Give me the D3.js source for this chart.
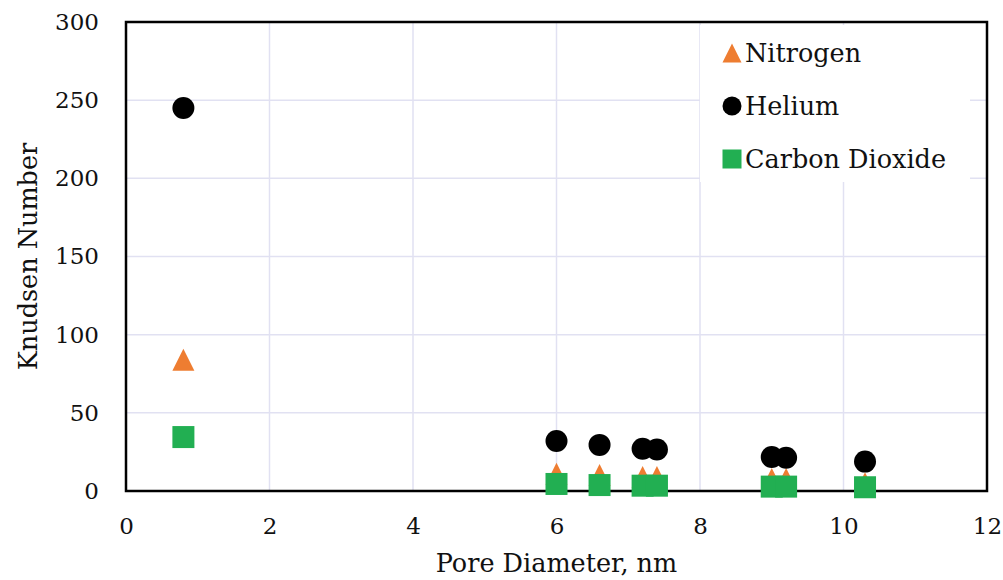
<!DOCTYPE html>
<html>
<head>
<meta charset="utf-8">
<script src="https://cdn.jsdelivr.net/npm/d3@7"></script>
<style>
  body { margin: 0; background: #fff; }
  svg text { font-family: "DejaVu Serif", "Liberation Serif", serif; fill: #111; }
</style>
</head>
<body>
<svg id="chart"></svg>
<script>
const poreDiameter = [0.8, 6.0, 6.6, 7.2, 7.4, 9.0, 9.2, 10.3];
const nitrogen = [84, 11, 10.2, 9, 9, 7.7, 7.7, 5];
const helium = [245, 32, 29.5, 27, 26.5, 21.8, 21.3, 18.8];
const carbonDioxide = [34.5, 4.5, 3.8, 3.4, 3.4, 2.8, 2.8, 2.4];
const xTicks = [0, 2, 4, 6, 8, 10, 12];
const yTicks = [0, 50, 100, 150, 200, 250, 300];
const seriesNames = ['Nitrogen', 'Helium', 'Carbon Dioxide'];

(() => {
  const width = 1003;
  const height = 580;
  const margin = { top: 22, right: 16, bottom: 89, left: 126 };
  const w = width - margin.left - margin.right;
  const h = height - margin.top - margin.bottom;

  const root = d3.select('svg#chart')
    .attr('width', width)
    .attr('height', height);

  const svg = root.append('g')
    .attr('transform', `translate(${margin.left},${margin.top})`);

  const xScale = d3.scaleLinear().domain([0, 12]).range([0, w]);
  const yScale = d3.scaleLinear().domain([0, 300]).range([h, 0]);

  // grid
  svg.append('g')
    .selectAll('line.v')
    .data(xTicks.slice(1, -1))
    .enter()
    .append('line')
      .attr('x1', d => xScale(d)).attr('x2', d => xScale(d))
      .attr('y1', 0).attr('y2', h)
      .style('stroke', '#e1e1f2')
      .style('stroke-width', 1.5);

  svg.append('g')
    .selectAll('line.h')
    .data(yTicks.slice(1, -1))
    .enter()
    .append('line')
      .attr('x1', 0).attr('x2', w)
      .attr('y1', d => yScale(d)).attr('y2', d => yScale(d))
      .style('stroke', '#e1e1f2')
      .style('stroke-width', 1.5);

  // legend background covers grid
  const legend = svg.append('g').attr('transform', `translate(${700 - margin.left},${25 - margin.top})`);
  legend.append('rect')
    .attr('width', 270).attr('height', 157)
    .style('fill', '#fff');

  // axes
  const xAxis = svg.append('g')
    .attr('transform', `translate(0,${h})`)
    .call(d3.axisBottom(xScale).tickValues(xTicks).tickSize(0).tickPadding(27));
  xAxis.select('.domain').remove();
  xAxis.selectAll('text').style('font-size', '23px').style('font-family', '"DejaVu Serif", serif');

  const yAxis = svg.append('g')
    .call(d3.axisLeft(yScale).tickValues(yTicks).tickSize(0).tickPadding(27));
  yAxis.select('.domain').remove();
  yAxis.selectAll('text').style('font-size', '23px').style('font-family', '"DejaVu Serif", serif');

  // plot border
  svg.append('rect')
    .attr('width', w).attr('height', h)
    .style('fill', 'none')
    .style('stroke', '#000')
    .style('stroke-width', 2.5);

  const tri = s => `M0,${-s / 2}L${s / 2},${s / 2}L${-s / 2},${s / 2}Z`;
  const colors = { Nitrogen: '#ee7d31', Helium: '#000', 'Carbon Dioxide': '#22af52' };

  // nitrogen triangles
  svg.append('g')
    .selectAll('path')
    .data(poreDiameter.map((x, i) => ({ x, y: nitrogen[i] })))
    .enter()
    .append('path')
      .attr('d', tri(22))
      .attr('transform', d => `translate(${xScale(d.x)},${yScale(d.y)})`)
      .style('fill', colors.Nitrogen);

  // helium circles
  svg.append('g')
    .selectAll('circle')
    .data(poreDiameter.map((x, i) => ({ x, y: helium[i] })))
    .enter()
    .append('circle')
      .attr('cx', d => xScale(d.x))
      .attr('cy', d => yScale(d.y))
      .attr('r', 11)
      .style('fill', colors.Helium);

  // co2 squares
  svg.append('g')
    .selectAll('rect')
    .data(poreDiameter.map((x, i) => ({ x, y: carbonDioxide[i] })))
    .enter()
    .append('rect')
      .attr('x', d => xScale(d.x) - 11)
      .attr('y', d => yScale(d.y) - 11)
      .attr('width', 22).attr('height', 22)
      .style('fill', colors['Carbon Dioxide']);

  // legend entries
  const items = legend.selectAll('g.item')
    .data(seriesNames)
    .enter()
    .append('g')
      .attr('transform', (d, i) => `translate(32,${28 + i * 53})`);

  items.each(function (d) {
    const g = d3.select(this);
    if (d === 'Nitrogen') g.append('path').attr('d', tri(19)).style('fill', colors[d]);
    if (d === 'Helium') g.append('circle').attr('r', 9.5).style('fill', colors[d]);
    if (d === 'Carbon Dioxide') g.append('rect').attr('x', -9.5).attr('y', -9.5).attr('width', 19).attr('height', 19).style('fill', colors[d]);
  });

  items.append('text')
    .attr('x', 13)
    .attr('dy', '0.36em')
    .style('font-size', '25.5px')
    .text(d => d);

  // axis titles
  root.append('text')
    .attr('transform', `translate(37,${margin.top + h / 2}) rotate(-90)`)
    .attr('text-anchor', 'middle')
    .style('font-size', '25.5px')
    .text('Knudsen Number');

  root.append('text')
    .attr('x', margin.left + w / 2)
    .attr('y', 572)
    .attr('text-anchor', 'middle')
    .style('font-size', '25.5px')
    .text('Pore Diameter, nm');
})();
</script>
</body>
</html>
